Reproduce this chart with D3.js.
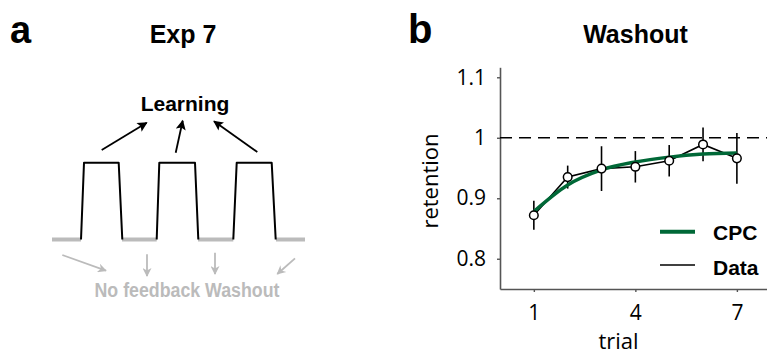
<!DOCTYPE html>
<html>
<head>
<meta charset="utf-8">
<script src="https://cdn.jsdelivr.net/npm/d3@7"></script>
<style>
  body { margin: 0; background: #fff; }
  svg { display: block; }
</style>
</head>
<body>
<div class="chart"></div>
<script>
// ---- panel b data (Washout) ----
const trials = [1, 2, 3, 4, 5, 6, 7];
const retention = [0.872, 0.935, 0.949, 0.952, 0.962, 0.989, 0.966];
const retentionSem = [0.024, 0.019, 0.037, 0.026, 0.026, 0.028, 0.042];
const cpcFit = [0.878, 0.922, 0.947, 0.960, 0.968, 0.973, 0.975];
const yTicks = [0.8, 0.9, 1, 1.1];
const xTicks = [1, 4, 7];
const legendNames = ['CPC', 'Data'];

// ---- panel a schematic (time units, level 0 = washout, 1 = learning) ----
const washoutBlocks = [[0, 29], [70, 104.7], [146, 181.3], [224, 253]];
const learningPulses = [
  [[29, 0], [32, 1], [66.7, 1], [70.3, 0]],
  [[104.7, 0], [107.3, 1], [143, 1], [146.3, 0]],
  [[181.3, 0], [184.7, 1], [219.7, 1], [223.7, 0]]
];

const W = 767, H = 356;
const green = '#006837';
const axisGrey = '#555';

const svg = d3.select('.chart').append('svg')
    .attr('width', W)
    .attr('height', H);

// arrow heads
const defs = svg.append('defs');
defs.append('marker')
    .attr('id', 'headBlack')
    .attr('viewBox', '0 0 10 10')
    .attr('refX', 9).attr('refY', 5)
    .attr('markerWidth', 11).attr('markerHeight', 10)
    .attr('markerUnits', 'userSpaceOnUse')
    .attr('orient', 'auto')
    .append('path').attr('d', 'M0,0 L10,5 L0,10 L2,5 z').attr('fill', '#000');
defs.append('marker')
    .attr('id', 'headGrey')
    .attr('viewBox', '0 0 10 10')
    .attr('refX', 9).attr('refY', 5)
    .attr('markerWidth', 10).attr('markerHeight', 9)
    .attr('markerUnits', 'userSpaceOnUse')
    .attr('orient', 'auto')
    .append('path').attr('d', 'M0,0 L10,5 L0,10 L3,5 z').attr('fill', '#bbb');

const boldFont = '"Liberation Sans", Arial, sans-serif';
const axisFont = '"Open Sans", "Noto Sans", sans-serif';

// panel letters + titles
svg.append('text').text('a')
    .attr('x', 10).attr('y', 43)
    .style('font-family', boldFont).style('font-weight', 'bold').style('font-size', '38px');
svg.append('text').text('b')
    .attr('x', 408).attr('y', 43)
    .style('font-family', boldFont).style('font-weight', 'bold').style('font-size', '40px');
svg.append('text').text('Exp 7')
    .attr('x', 183).attr('y', 43).attr('text-anchor', 'middle')
    .style('font-family', boldFont).style('font-weight', 'bold').style('font-size', '25px');
svg.append('text').text('Washout')
    .attr('x', 635.5).attr('y', 43).attr('text-anchor', 'middle')
    .style('font-family', boldFont).style('font-weight', 'bold').style('font-size', '25px');

// ================= panel a =================
const xA = d3.scaleLinear().domain([0, 253]).range([52, 305]);
const yA = d3.scaleLinear().domain([0, 1]).range([239.5, 162.7]);

const gA = svg.append('g');
gA.selectAll('.wash')
    .data(washoutBlocks)
    .enter().append('line')
    .attr('x1', d => xA(d[0])).attr('x2', d => xA(d[1]))
    .attr('y1', yA(0)).attr('y2', yA(0))
    .attr('stroke', '#bbb').attr('stroke-width', 4);

const pulseLine = d3.line().x(d => xA(d[0])).y(d => yA(d[1]));
gA.selectAll('.pulse')
    .data(learningPulses)
    .enter().append('path')
    .attr('d', pulseLine)
    .attr('fill', 'none')
    .attr('stroke', '#000').attr('stroke-width', 2)
    .attr('stroke-linejoin', 'round');

// black arrows to "Learning"
const learnArrows = [[101.7, 150, 146.7, 122.7], [175.7, 152.7, 182.7, 120.7], [257.3, 152, 214, 121.3]];
gA.selectAll('.la')
    .data(learnArrows)
    .enter().append('line')
    .attr('x1', d => d[0]).attr('y1', d => d[1])
    .attr('x2', d => d[2]).attr('y2', d => d[3])
    .attr('stroke', '#000').attr('stroke-width', 1.8)
    .attr('marker-end', 'url(#headBlack)');
gA.append('text').text('Learning')
    .attr('x', 185).attr('y', 111).attr('text-anchor', 'middle')
    .style('font-family', boldFont).style('font-weight', 'bold').style('font-size', '21px');

// grey arrows to "No feedback Washout"
const washArrows = [[62.3, 255, 106, 270.7], [147, 254.3, 147, 276], [215, 252.7, 215, 274], [295, 258.3, 277.3, 274]];
gA.selectAll('.wa')
    .data(washArrows)
    .enter().append('line')
    .attr('x1', d => d[0]).attr('y1', d => d[1])
    .attr('x2', d => d[2]).attr('y2', d => d[3])
    .attr('stroke', '#bbb').attr('stroke-width', 1.8)
    .attr('marker-end', 'url(#headGrey)');
gA.append('text').text('No feedback Washout')
    .attr('x', 94.5).attr('y', 296.7)
    .attr('textLength', 185).attr('lengthAdjust', 'spacingAndGlyphs')
    .attr('fill', '#bbb')
    .style('font-family', boldFont).style('font-weight', 'bold').style('font-size', '20px');

// ================= panel b =================
const x = d3.scaleLinear().domain([0, 7.89]).range([500, 767]);
const y = d3.scaleLinear().domain([0.75, 1.1165]).range([289, 67.3]);

const yAxis = svg.append('g')
    .attr('transform', `translate(${x(0)},0)`)
    .call(d3.axisLeft(y).tickValues(yTicks)
        .tickFormat(d => d === 1 ? '1' : d3.format('.1f')(d))
        .tickSize(3).tickSizeOuter(0).tickPadding(11));
const xAxis = svg.append('g')
    .attr('transform', `translate(0,${y(0.75)})`)
    .call(d3.axisBottom(x).tickValues(xTicks)
        .tickSize(3).tickSizeOuter(0).tickPadding(13));
[xAxis, yAxis].forEach(ax => {
  ax.select('.domain').attr('stroke', axisGrey).attr('stroke-width', 1.6);
  ax.selectAll('.tick line').attr('stroke', axisGrey).attr('stroke-width', 1.4);
  ax.selectAll('.tick text')
      .attr('fill', '#000')
      .style('font-family', axisFont).style('font-size', '21px');
});

svg.append('text').text('trial')
    .attr('x', 618.5).attr('y', 349).attr('text-anchor', 'middle')
    .style('font-family', axisFont).style('font-size', '22px').attr('fill', '#000');
svg.append('text').text('retention')
    .attr('transform', `translate(438,181) rotate(-90)`)
    .attr('text-anchor', 'middle')
    .style('font-family', axisFont).style('font-size', '22px').attr('fill', '#000');

// reference line at 1
svg.append('line')
    .attr('x1', x(0)).attr('x2', W)
    .attr('y1', y(1)).attr('y2', y(1))
    .attr('stroke', '#000').attr('stroke-width', 1.6)
    .attr('stroke-dasharray', '12,7');

const pts = trials.map((t, i) => ({ t: t, m: retention[i], e: retentionSem[i], c: cpcFit[i] }));

// error bars
svg.append('g').selectAll('line')
    .data(pts)
    .enter().append('line')
    .attr('x1', d => x(d.t)).attr('x2', d => x(d.t))
    .attr('y1', d => y(d.m - d.e)).attr('y2', d => y(d.m + d.e))
    .attr('stroke', '#000').attr('stroke-width', 1.6);

// data line
svg.append('path')
    .datum(pts)
    .attr('d', d3.line().x(d => x(d.t)).y(d => y(d.m)))
    .attr('fill', 'none').attr('stroke', '#000').attr('stroke-width', 1.6);

// CPC fit
svg.append('path')
    .datum(pts)
    .attr('d', d3.line().x(d => x(d.t)).y(d => y(d.c)).curve(d3.curveMonotoneX))
    .attr('fill', 'none').attr('stroke', green).attr('stroke-width', 3.5);

// markers
svg.append('g').selectAll('circle')
    .data(pts)
    .enter().append('circle')
    .attr('cx', d => x(d.t)).attr('cy', d => y(d.m))
    .attr('r', 4.3)
    .attr('fill', '#fff').attr('stroke', '#000').attr('stroke-width', 1.5);

// legend
const legend = svg.append('g');
legend.selectAll('line')
    .data(legendNames)
    .enter().append('line')
    .attr('x1', 660).attr('x2', 695)
    .attr('y1', (d, i) => 231.7 + i * 33.3).attr('y2', (d, i) => 231.7 + i * 33.3)
    .attr('stroke', (d, i) => i === 0 ? green : '#000')
    .attr('stroke-width', (d, i) => i === 0 ? 4 : 1.6);
legend.selectAll('text')
    .data(legendNames)
    .enter().append('text')
    .text(d => d)
    .attr('x', 713)
    .attr('y', (d, i) => 240 + i * 34.5)
    .style('font-family', boldFont).style('font-weight', 'bold').style('font-size', '21px');
</script>
</body>
</html>
